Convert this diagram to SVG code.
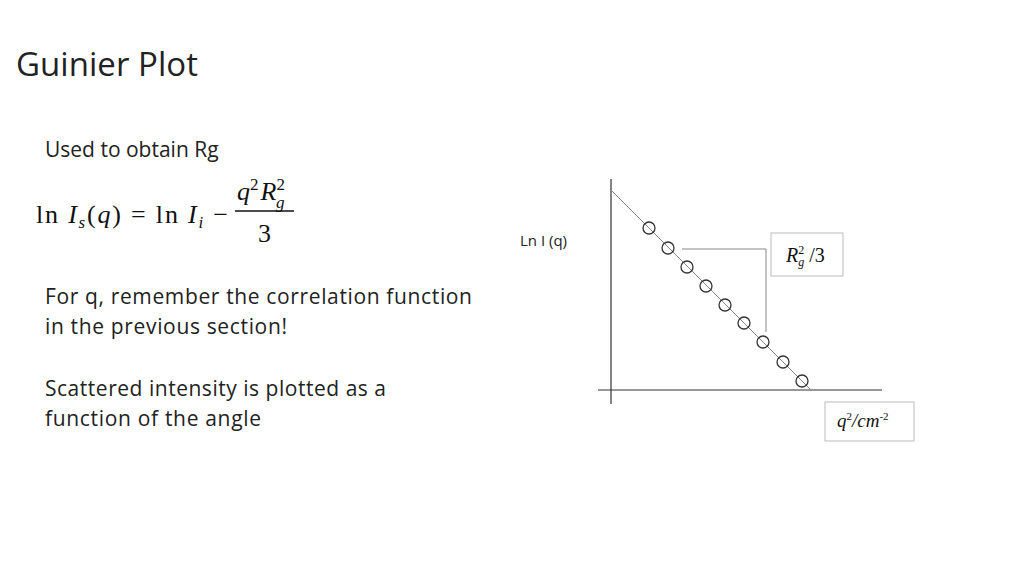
<svg xmlns="http://www.w3.org/2000/svg" width="1024" height="576" viewBox="0 0 1024 576">
<style>
.t{font-family:"Open Sans","Noto Sans",sans-serif;fill:#222}
.m{font-family:"Liberation Serif","DejaVu Serif",serif;fill:#111}
.ln{stroke:#333;stroke-width:1.2;fill:none}
.g{stroke:#888;stroke-width:1;fill:none}
.c{stroke:#333;stroke-width:1.3;fill:none}
.b{stroke:#bbb;fill:#fff}
</style>
<rect width="1024" height="576" fill="#fff"/>
<text class="t" x="16" y="76" font-size="33" textLength="182">Guinier Plot</text>
<text class="t" x="45" y="157" font-size="21">Used to obtain Rg</text>
<text class="m" x="36" y="223" font-size="26" textLength="192" lengthAdjust="spacing">ln <tspan font-style="italic">I</tspan><tspan font-style="italic" font-size="17" dy="5">s</tspan><tspan dy="-5">(</tspan><tspan font-style="italic">q</tspan>) = ln <tspan font-style="italic">I</tspan><tspan font-style="italic" font-size="17" dy="5">i</tspan><tspan dy="-5"> −</tspan></text>
<text class="m" x="237" y="200" font-size="26"><tspan font-style="italic">q</tspan><tspan font-size="17" dy="-10">2</tspan><tspan font-style="italic" dx="2" dy="10">R</tspan><tspan font-size="17" dy="-10">2</tspan><tspan font-style="italic" font-size="17" dx="-9" dy="18">g</tspan></text>
<line x1="235" y1="211" x2="294" y2="211" stroke="#111" stroke-width="1.3"/>
<text class="m" x="258" y="242" font-size="26">3</text>
<text class="t" x="45" y="304" font-size="21" textLength="427">For q, remember the correlation function</text>
<text class="t" x="45" y="334" font-size="21" textLength="242">in the previous section!</text>
<text class="t" x="45" y="396" font-size="21" textLength="341">Scattered intensity is plotted as a</text>
<text class="t" x="45" y="426" font-size="21" textLength="216">function of the angle</text>
<g id="plot">
<line class="ln" x1="611" y1="179" x2="611" y2="404"/>
<line class="ln" x1="598" y1="390" x2="882" y2="390"/>
<line class="g" x1="611" y1="190" x2="812" y2="391"/>
<line class="g" x1="682" y1="249" x2="766" y2="249"/>
<line class="g" x1="766" y1="249" x2="766" y2="332"/>
<g class="c">
<circle cx="649" cy="228" r="6"/><circle cx="668" cy="248" r="6"/><circle cx="687" cy="267" r="6"/>
<circle cx="706" cy="286" r="6"/><circle cx="725" cy="305" r="6"/><circle cx="744" cy="323" r="6"/>
<circle cx="763" cy="342" r="6"/><circle cx="783" cy="362" r="6"/><circle cx="802" cy="381" r="6"/>
</g>
</g>
<text class="t" x="520" y="246" font-size="15">Ln I (q)</text>
<g id="rbox">
<rect class="b" x="771" y="233" width="72" height="43"/>
<text class="m" x="786" y="262" font-size="20"><tspan font-style="italic">R</tspan><tspan font-size="12" dy="-8">2</tspan><tspan font-style="italic" font-size="12" dx="-6" dy="12">g</tspan><tspan dy="-4"> /3</tspan></text>
</g>
<g id="qbox">
<rect class="b" x="825" y="402" width="89" height="39"/>
<text class="m" x="837" y="427" font-size="19" font-style="italic">q<tspan font-size="11" dy="-7" font-style="normal">2</tspan><tspan dy="7">/cm</tspan><tspan font-size="11" dy="-7" font-style="normal">-2</tspan></text>
</g>
</svg>
